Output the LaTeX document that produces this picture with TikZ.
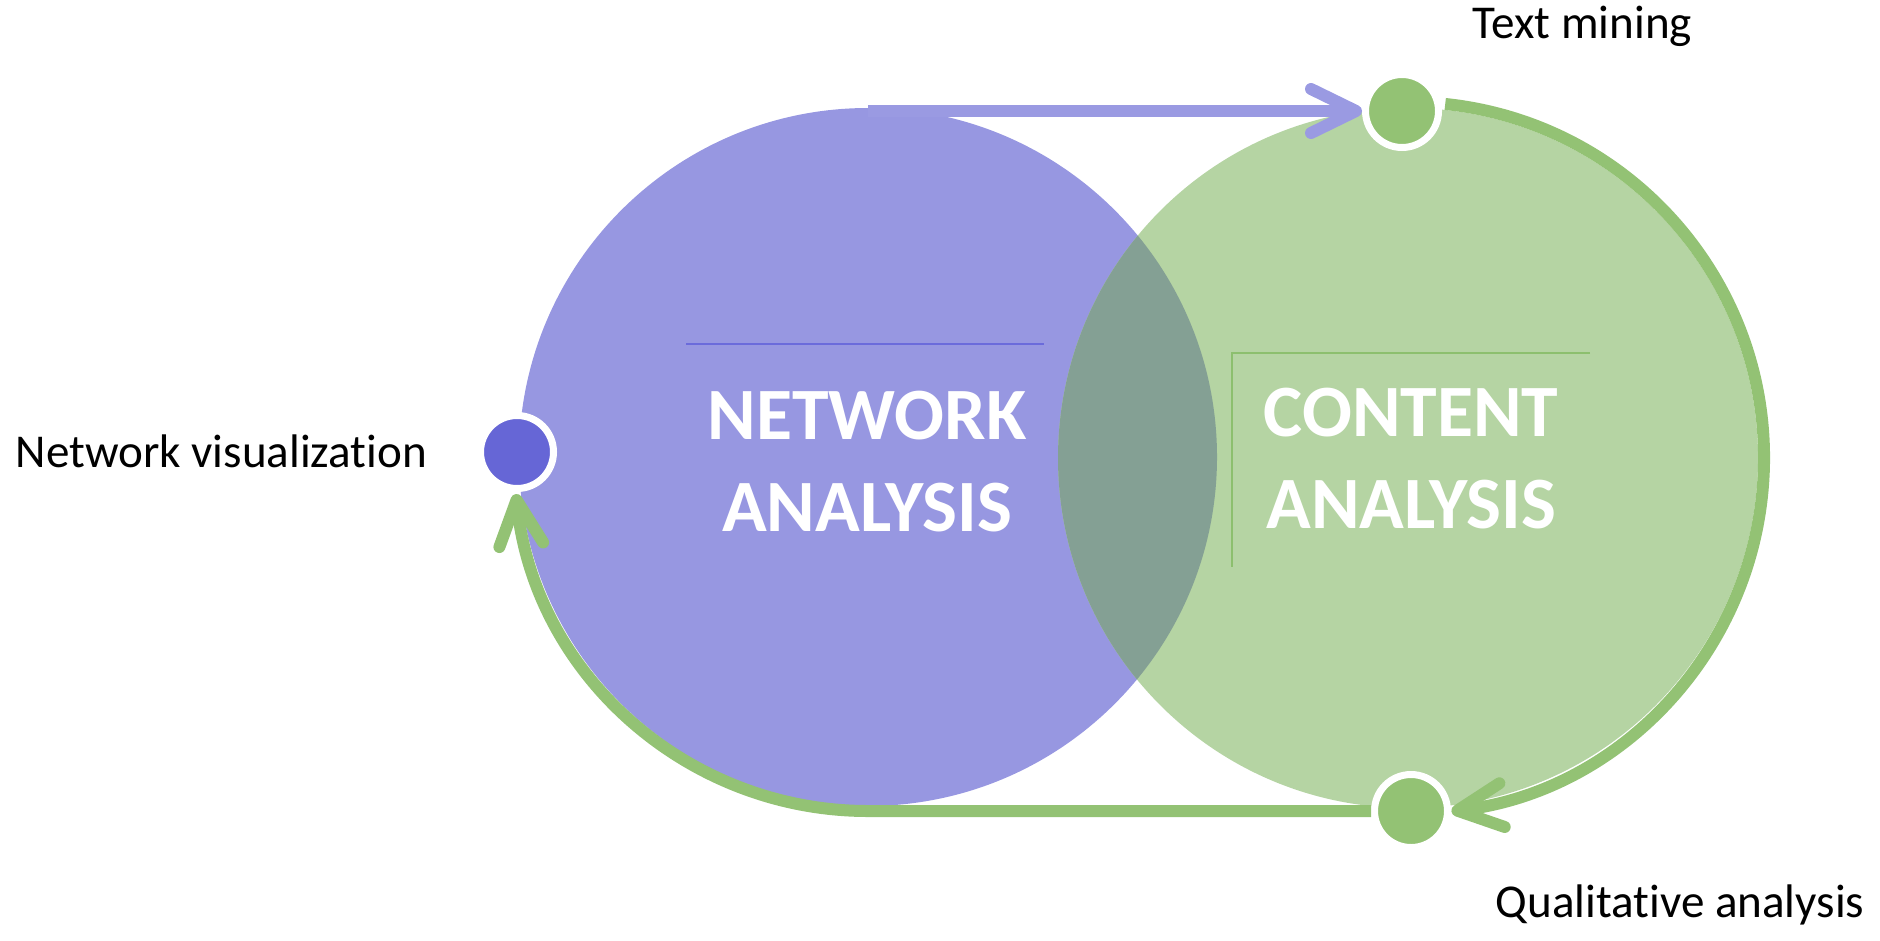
\documentclass[tikz,border=0pt]{standalone}
\usepackage{fontspec}
\setmainfont{Carlito}[Ligatures=NoCommon]
\usepackage{tikz}
\usetikzlibrary{arrows.meta,calc}
\definecolor{netfill}{HTML}{9797E1}
\definecolor{confill}{HTML}{B5D4A3}
\definecolor{mixfill}{HTML}{84A094}
\definecolor{greenln}{HTML}{93C274}
\definecolor{purpln}{HTML}{9A9AE2}
\definecolor{netdot}{HTML}{6666D6}
\definecolor{netrule}{HTML}{6B6BDB}
\definecolor{conrule}{HTML}{8CBF6E}
\tikzset{
  lineP/.style={line width=0.12cm, draw=purpln, ->},
  lineG/.style={line width=0.12cm, draw=greenln, ->},
  dot/.style={circle, draw=white, line width=0.07cm, minimum size=0.73cm, inner sep=0pt},
  title/.style={text=white, align=center, font=\bfseries\fontsize{21}{25.9}\selectfont},
  lab/.style={text=black, font=\fontsize{13.4}{16}\selectfont, inner sep=0pt}
}
\begin{document}
\begin{tikzpicture}[>={Straight Barb[length=4.5mm,width=4.4mm,round]}]
  \useasboundingbox (0,0) rectangle (18.8,9.4);

  \coordinate (NA) at (8.68,4.83);
  \coordinate (CA) at (14.08,4.82);

  % the two circles and their overlap
  \fill[netfill] (NA) circle (3.49);
  \fill[confill] (CA) circle (3.50);
  \begin{scope}
    \clip (NA) circle (3.49);
    \fill[mixfill] (CA) circle (3.50);
  \end{scope}

  \draw[netrule, line width=0.3pt] (6.86,5.96) -- (10.44,5.96);
  \draw[conrule, line width=0.3pt] (15.90,5.87) -- (12.32,5.87) -- (12.32,3.73);

  \node[title, anchor=base] (net) at (8.67,4.09) {NETWORK\\ANALYSIS};
  \node[title, anchor=base] (con) at (14.11,4.12) {CONTENT\\ANALYSIS};

  \node[dot, fill=netdot] (nv) at (5.17,4.88) {};
  \node[dot, fill=greenln] (tm) at (14.02,8.29) {};
  \node[dot, fill=greenln] (qa) at (14.11,1.29) {};

  \node[lab, anchor=base west] at (0.15,4.73) {Network visualization};
  \node[lab, anchor=base west] at (14.72,9.02) {Text mining};
  \node[lab, anchor=base west] at (14.95,0.23) {Qualitative analysis};

  \draw[lineP] (NA |- tm) -- (tm.west);
  \draw[lineG] ($(CA)+(84:3.56)$) arc[start angle=84, end angle=-83, radius=3.56];
  \draw[lineG] (qa.west) -- (qa.west -| NA) arc[start angle=270, end angle=186, radius=3.54];
\end{tikzpicture}
\end{document}
